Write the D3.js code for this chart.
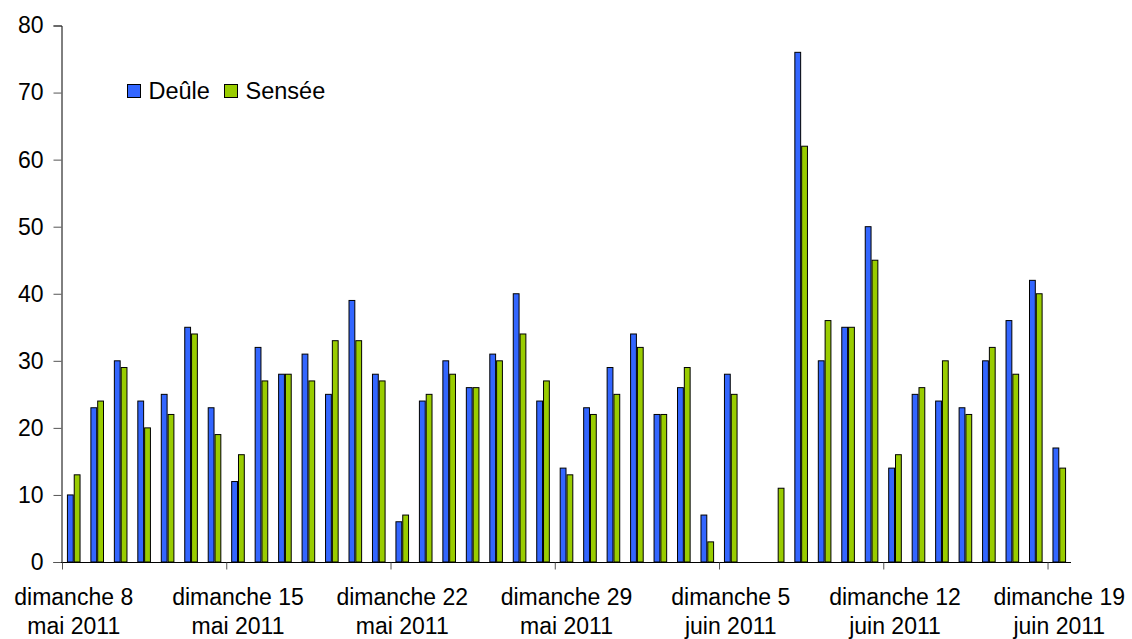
<!DOCTYPE html>
<html>
<head>
<meta charset="utf-8">
<script src="https://cdn.jsdelivr.net/npm/d3@7/dist/d3.min.js"></script>
<style>
  html, body { margin: 0; padding: 0; background: #fff; }
  svg { display: block; font-family: "Liberation Sans", Arial, sans-serif; }
</style>
</head>
<body>
<svg id="chart" width="1132" height="639"></svg>
<script>
// ---- DATA ----
const dates = [
  "2011-05-08","2011-05-09","2011-05-10","2011-05-11","2011-05-12","2011-05-13","2011-05-14",
  "2011-05-15","2011-05-16","2011-05-17","2011-05-18","2011-05-19","2011-05-20","2011-05-21",
  "2011-05-22","2011-05-23","2011-05-24","2011-05-25","2011-05-26","2011-05-27","2011-05-28",
  "2011-05-29","2011-05-30","2011-05-31","2011-06-01","2011-06-02","2011-06-03","2011-06-04",
  "2011-06-05","2011-06-06","2011-06-07","2011-06-08","2011-06-09","2011-06-10","2011-06-11",
  "2011-06-12","2011-06-13","2011-06-14","2011-06-15","2011-06-16","2011-06-17","2011-06-18",
  "2011-06-19"
];
const seriesNames = ["Deûle", "Sensée"];
const deule = [10,23,30,24,25,35,23, 12,32,28,31,25,39,28, 6,24,30,26,31,40,24, 14,23,29,34,22,26,7, 28,null,null,76,30,35,50, 14,25,24,23,30,36,42, 17];
const sensee = [13,24,29,20,22,34,19, 16,27,28,27,33,33,27, 7,25,28,26,30,34,27, 13,22,25,32,22,29,3, 25,null,11,62,36,35,45, 16,26,30,22,32,28,40, 14];
const tickDates = ["2011-05-08","2011-05-15","2011-05-22","2011-05-29","2011-06-05","2011-06-12","2011-06-19"];
const tickLabels = [
  ["dimanche 8","mai 2011"],["dimanche 15","mai 2011"],["dimanche 22","mai 2011"],
  ["dimanche 29","mai 2011"],["dimanche 5","juin 2011"],["dimanche 12","juin 2011"],
  ["dimanche 19","juin 2011"]
];
const yTicks = [0,10,20,30,40,50,60,70,80];
const colors = ["#3366FF", "#99CC00"];

// ---- LAYOUT ----
const svg = d3.select("#chart");
const mLeft = 62, mRight = 1071, mTop = 25.5, mBottom = 562;
const fontSize = 23;

const parse = d3.timeParse("%Y-%m-%d");
const x = d3.scaleBand().domain(dates).range([mLeft, mRight]).paddingInner(0.42).paddingOuter(0.21);
const x1 = d3.scaleBand().domain(seriesNames).range([0, x.bandwidth()]);
const xt = d3.scaleTime()
  .domain([parse(dates[0]), d3.timeDay.offset(parse(dates[dates.length - 1]), 1)])
  .range([mLeft, mRight]);
const y = d3.scaleLinear().domain([0, 80]).range([mBottom, mTop]);

const rows = dates.map((d, i) => ({ date: d, values: [deule[i], sensee[i]] }));

// bars
const g = svg.append("g");
rows.forEach(r => {
  r.values.forEach((v, k) => {
    if (v == null) return;
    g.append("rect")
      .attr("x", x(r.date) + x1(seriesNames[k]) + 0.5)
      .attr("y", y(v))
      .attr("width", x1.bandwidth() - 1)
      .attr("height", y(0) - y(v))
      .attr("fill", colors[k])
      .attr("stroke", "#000")
      .attr("stroke-width", 1);
  });
});

// y axis
const yAxis = svg.append("g")
  .attr("transform", `translate(${mLeft - 0.5},0)`)
  .call(d3.axisLeft(y).tickValues(yTicks).tickSize(8).tickPadding(10).tickFormat(d3.format("d")));
yAxis.select(".domain").attr("stroke", "#000");
yAxis.selectAll(".tick line").attr("stroke", "#555");
yAxis.selectAll("text").attr("font-size", fontSize).attr("fill", "#000")
  .attr("font-family", "Liberation Sans, Arial, sans-serif");

// x axis
const xAxis = svg.append("g")
  .attr("transform", `translate(0,${mBottom + 0.5})`)
  .call(d3.axisBottom(xt).tickValues(tickDates.map(parse)).tickSize(7).tickFormat(""));
xAxis.select(".domain").attr("stroke", "#000").attr("d", `M${mLeft - 0.5},0H${mRight}`);
xAxis.selectAll(".tick line").attr("stroke", "#555");

// x labels (two lines, centered on day band)
tickDates.forEach((d, i) => {
  const cx = x(d) + x.bandwidth() / 2;
  const t = svg.append("text")
    .attr("x", cx)
    .attr("text-anchor", "middle")
    .attr("font-size", fontSize)
    .attr("fill", "#000");
  t.append("tspan").attr("x", cx).attr("y", 605).text(tickLabels[i][0]);
  t.append("tspan").attr("x", cx).attr("y", 634).text(tickLabels[i][1]);
});

// legend
const legend = svg.append("g");
const legendX = [127.5, 224.5];
seriesNames.forEach((name, k) => {
  legend.append("rect")
    .attr("x", legendX[k]).attr("y", 84.5)
    .attr("width", 13).attr("height", 13)
    .attr("fill", colors[k]).attr("stroke", "#000").attr("stroke-width", 1);
  legend.append("text")
    .attr("x", legendX[k] + 21).attr("y", 99)
    .attr("font-size", 23.5).attr("fill", "#000")
    .text(name);
});
</script>
</body>
</html>
